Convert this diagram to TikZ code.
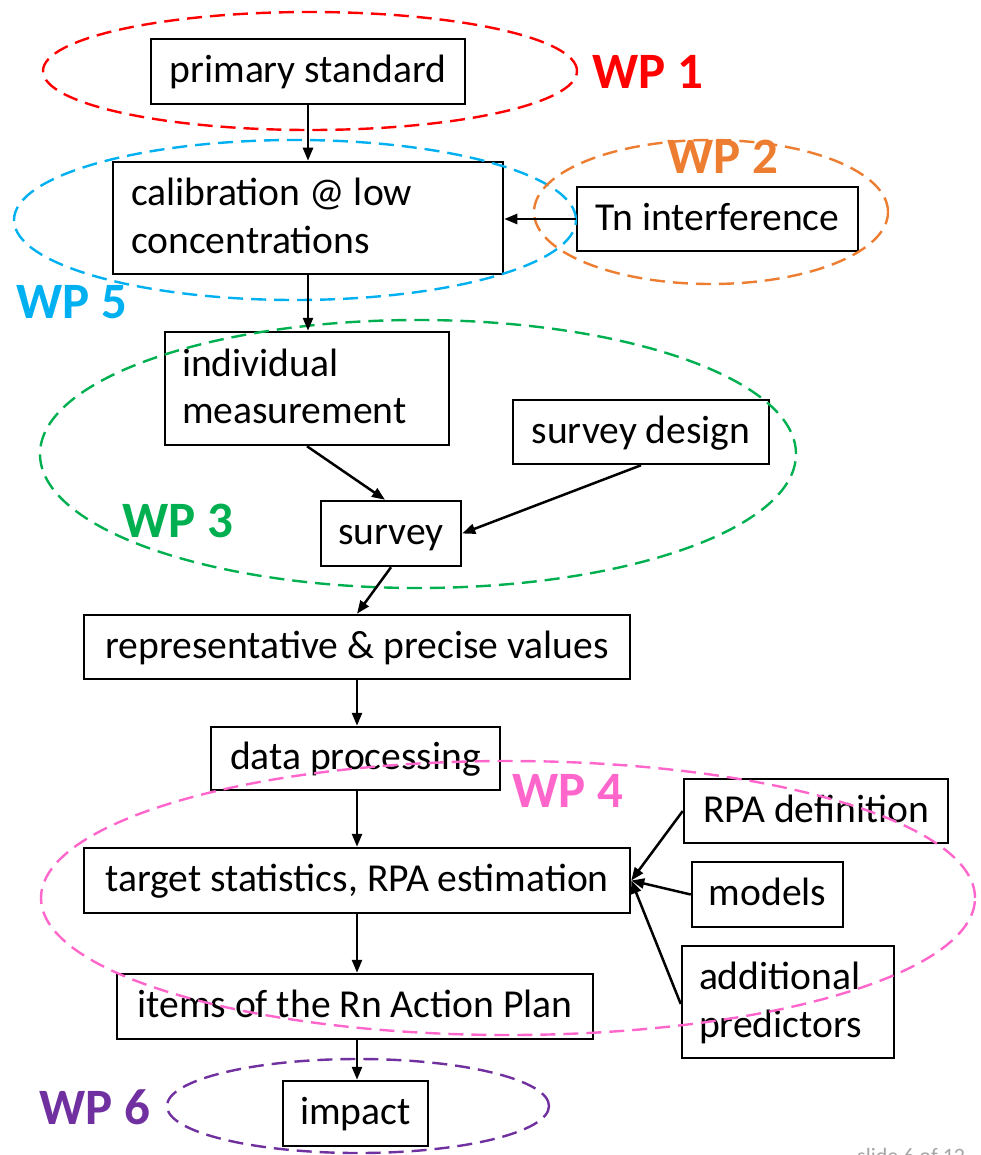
\documentclass[tikz,border=0pt]{standalone}
\usepackage{fontspec}
\setmainfont{Carlito}
\usetikzlibrary{arrows.meta}
\definecolor{wpred}{RGB}{255,0,0}
\definecolor{wporange}{RGB}{237,125,49}
\definecolor{wpblue}{RGB}{0,176,240}
\definecolor{wpgreen}{RGB}{0,176,80}
\definecolor{wppink}{RGB}{255,102,204}
\definecolor{wppurple}{RGB}{112,48,160}
\definecolor{slidegray}{RGB}{165,165,165}
% fixed line strut: ascender 0.75em, descender 0.17em
\newcommand\tstrut{\rule[-0.17em]{0pt}{0.92em}}
\tikzset{
  boxfont/.style={font=\fontsize{39.6}{47.5}\selectfont},
  stepbox/.style={boxfont, draw=black, line width=2.5pt, inner sep=0pt,
    minimum width=#1, execute at begin node=\tstrut},
  twoline/.style={boxfont, draw=black, line width=2.5pt, inner ysep=0pt,
    align=flush left},
  wpgroup/.style={line width=2.4pt, dash pattern=on 15pt off 8pt},
  wplabel/.style={font=\fontsize{51}{60}\selectfont\bfseries, inner sep=0pt},
  flow/.style={line width=2.5pt, -{Triangle[length=13pt,width=10pt]}},
}
\begin{document}
\begin{tikzpicture}[x=1pt,y=-1pt]
\useasboundingbox (0,0) rectangle (981,1155);

% boxes
\node[stepbox=314, minimum height=65] (ps) at (308,71.5) {primary standard};
\node[twoline, minimum width=390, minimum height=112, text width=354,
      inner xsep=18] (cal) at (308,218)
      {\tstrut calibration @ low\\\tstrut concentrations};
\node[stepbox=281, minimum height=64] (tn) at (717.5,219) {Tn interference};
\node[twoline, minimum width=284, minimum height=113, text width=250,
      inner xsep=17] (ind) at (307,388.5)
      {\tstrut individual\\\tstrut measurement};
\node[stepbox=256, minimum height=64] (sd) at (641,432) {survey design};
\node[stepbox=140, minimum height=65] (sv) at (391,533.5) {survey};
\node[stepbox=546, minimum height=64] (rep) at (357,647) {representative \& precise values};
\node[stepbox=289, minimum height=63] (dp) at (355.5,758.5) {data processing};
\node[stepbox=546, minimum height=65] (ts) at (357,880.5) {target statistics, RPA estimation};
\node[stepbox=264, minimum height=64] (rpa) at (816,811) {RPA definition};
\node[stepbox=151, minimum height=65] (mod) at (767.5,894.5) {models};
\node[twoline, minimum width=212, minimum height=112, text width=178,
      inner xsep=17] (add) at (788,1002)
      {\tstrut additional\\\tstrut predictors};
\node[stepbox=476, minimum height=65] (items) at (355,1006.5) {items of the Rn Action Plan};
\node[stepbox=145, minimum height=65] (imp) at (355.5,1113.5) {impact};

% work package groups
\draw[wpgroup, wpred]    (310,71)  ellipse [x radius=267pt, y radius=59pt];
\draw[wpgroup, wpblue]   (295,220) ellipse [x radius=281pt, y radius=80pt];
\draw[wpgroup, wporange] (711,212) ellipse [x radius=177pt, y radius=72pt];
\draw[wpgroup, wpgreen]  (418,454) ellipse [x radius=378pt, y radius=134pt];
\draw[wpgroup, wppink]   (508,898) ellipse [x radius=467pt, y radius=137pt];
\draw[wpgroup, wppurple] (358,1106) ellipse [x radius=191pt, y radius=47pt];

% work package labels
\node[wplabel, text=wpred]    (wp1) at (648,72)  {WP 1};
\node[wplabel, text=wporange] (wp2) at (723,157) {WP 2};
\node[wplabel, text=wpblue]   (wp5) at (72,302)  {WP 5};
\node[wplabel, text=wpgreen]  (wp3) at (178,521) {WP 3};
\node[wplabel, text=wppink]   (wp4) at (568,791) {WP 4};
\node[wplabel, text=wppurple] (wp6) at (95,1107) {WP 6};

% connectors
\draw[flow] (ps.south) -- (ps.south |- cal.north);
\draw[flow] (tn.west) -- (cal.east |- tn.west);
\draw[flow] (cal.south) -- (cal.south |- ind.north);
\draw[flow] (ind.south) -- ([xshift=-6pt]sv.north);
\draw[flow] (sd.south) -- (sv.east);
\draw[flow] (sv.south) -- (rep.north);
\draw[flow] (rep.south) -- (rep.south |- dp.north);
\draw[flow] (rep.south |- dp.south) -- (rep.south |- ts.north);
\draw[flow] (ts.south) -- (ts.south |- items.north);
\draw[flow] (ts.south |- items.south) -- (ts.south |- imp.north);
\draw[flow] (rpa.west) -- (ts.east);
\draw[flow] (mod.west) -- (ts.east);
\draw[flow] ([yshift=-2pt]add.west) -- (ts.east);

% slide footer, running off the lower edge
\node[anchor=base west, inner sep=0pt, text=slidegray,
      font=\fontsize{22}{26}\selectfont] (footer) at (857,1163) {slide 6 of 12};
\end{tikzpicture}
\end{document}
